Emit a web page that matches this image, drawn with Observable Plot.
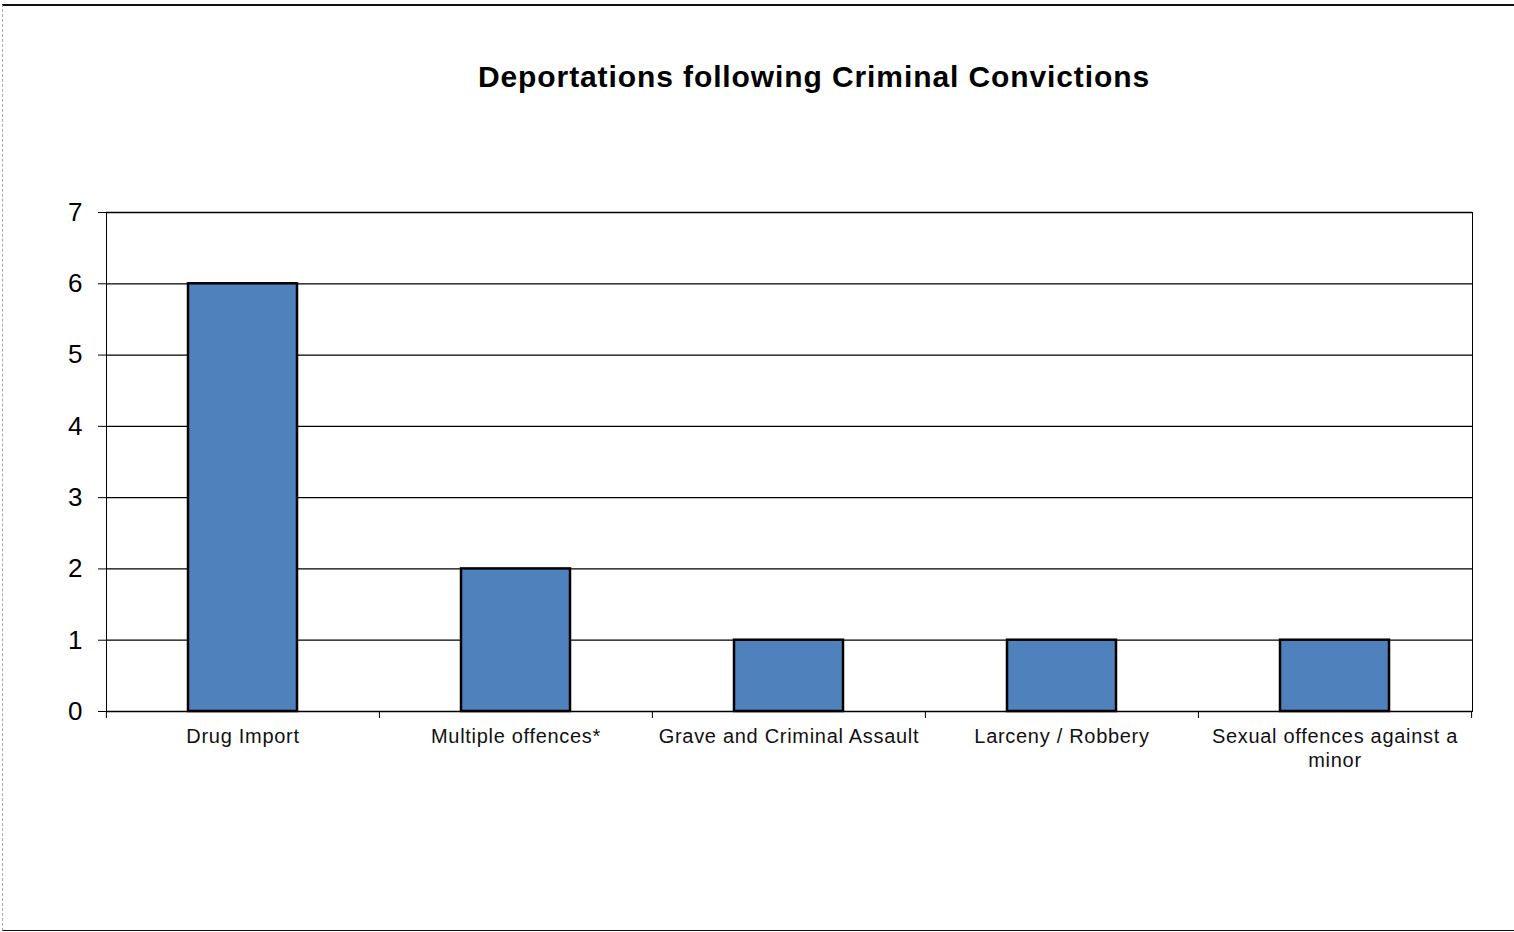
<!DOCTYPE html>
<html><head><meta charset="utf-8">
<script src="https://cdn.jsdelivr.net/npm/d3@7"></script>
<script src="https://cdn.jsdelivr.net/npm/@observablehq/plot@0.6"></script>
<style>
html,body{margin:0;padding:0;background:#fff;}
#wrap{position:relative;width:1514px;height:932px;overflow:hidden;font-family:"Liberation Sans",Arial,sans-serif;}
#frame{position:absolute;left:2px;top:4px;width:1530px;height:924px;border-top:2px solid #111;border-left:1px dashed #aaa;border-bottom:1px solid #111;pointer-events:none;}
#title{position:absolute;top:61px;left:114px;width:1400px;text-align:center;font-size:30px;font-weight:bold;line-height:32px;letter-spacing:0.9px;color:#000;}
#chart{position:absolute;left:0;top:150px;}
#chart svg{display:block;}
#chart svg g[aria-label="x-axis tick label"] text{letter-spacing:0.7px;}
</style></head>
<body><div id="wrap"><div id="title">Deportations following Criminal Convictions</div><div id="chart"></div><div id="frame"></div></div>
<script>
const categories = ["Drug Import","Multiple offences*","Grave and Criminal Assault","Larceny / Robbery","Sexual offences against a minor"];
const tickLabels = ["Drug Import","Multiple offences*","Grave and Criminal Assault","Larceny / Robbery","Sexual offences against a\nminor"];
const deportations = [6,2,1,1,1];
const yTicks = [0,1,2,3,4,5,6,7];

const data = categories.map((c,i)=>({category:c, value:deportations[i]}));

const W = 1514, H = 782, mT = 62, mB = 221, mL = 106, mR = 42;
const step = (W - mL - mR) / categories.length;

const chart = Plot.plot({
  width: W, height: H,
  marginTop: mT, marginBottom: mB, marginLeft: mL, marginRight: mR,
  style: {fontFamily: '"Liberation Sans", Arial, sans-serif', fontSize: "20px", color: "#000", background: "transparent"},
  x: {type: "band", domain: categories, paddingInner: 0.6, paddingOuter: 0.3, align: 0.5},
  y: {domain: [0, 7]},
  marks: [
    Plot.gridY(yTicks, {stroke: "#000", strokeOpacity: 1, strokeWidth: 1.3}),
    Plot.barY(data, {x: "category", y: "value", fill: "#4F81BD", stroke: "#000", strokeWidth: 2.5}),
    Plot.frame({stroke: "#000", strokeWidth: 1}),
    Plot.axisY(yTicks, {tickSize: 8, tickPadding: 16, fontSize: 26, tickFormat: d => String(d), label: null, stroke: "#000"}),
    Plot.axisX({tickSize: 0, tickPadding: 14, fontSize: 20, lineHeight: 1.2, label: null, fill: "#111",
      tickFormat: d => tickLabels[categories.indexOf(d)]}),
    Plot.ruleX(categories, {x: d => d, dx: -step / 2, y1: 0, y2: 0, insetBottom: -7, stroke: "#000"}),
    Plot.ruleX(categories.slice(-1), {x: d => d, dx: step / 2, y1: 0, y2: 0, insetBottom: -7, stroke: "#000"})
  ]
});
document.getElementById("chart").appendChild(chart);
</script>
</body></html>
